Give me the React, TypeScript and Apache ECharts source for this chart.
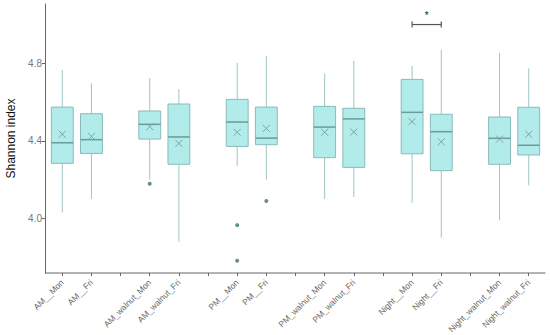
import React, { useEffect, useRef } from "react";
import * as echarts from "echarts";

const categories = [
  "AM__Mon", "AM__Fri", "gap1",
  "AM_walnut_Mon", "AM_walnut_Fri", "gap2",
  "PM__Mon", "PM__Fri", "gap3",
  "PM_walnut_Mon", "PM_walnut_Fri", "gap4",
  "Night__Mon", "Night__Fri", "gap5",
  "Night_walnut_Mon", "Night_walnut_Fri",
];

const groupIndex = [0, 1, 3, 4, 6, 7, 9, 10, 12, 13, 15, 16];
const whiskerLow = [4.03, 4.10, 4.20, 3.88, 4.27, 4.20, 4.10, 4.11, 4.08, 3.90, 3.99, 4.17];
const q1 = [4.284, 4.335, 4.409, 4.279, 4.371, 4.38, 4.313, 4.263, 4.333, 4.246, 4.279, 4.327];
const medians = [4.39, 4.406, 4.485, 4.42, 4.497, 4.414, 4.471, 4.513, 4.547, 4.447, 4.413, 4.377];
const q3 = [4.574, 4.54, 4.554, 4.59, 4.614, 4.574, 4.578, 4.568, 4.717, 4.537, 4.523, 4.573];
const whiskerHigh = [4.765, 4.697, 4.723, 4.667, 4.803, 4.838, 4.748, 4.812, 4.786, 4.869, 4.853, 4.774];
const means = [4.434, 4.423, 4.473, 4.387, 4.444, 4.464, 4.444, 4.445, 4.499, 4.395, 4.409, 4.434];

const outlierCats = [3, 6, 6, 7];
const outlierValues = [4.179, 3.965, 3.781, 4.089];

const yTicks = [4.0, 4.4, 4.8];
const sigPair = [12, 13];
const sigLevel = 5.0;
const sigLabel = "*";

const FONT = "'Liberation Sans', Arial, sans-serif";

export default function App() {
  const ref = useRef<HTMLDivElement>(null);
  useEffect(() => {
    document.body.style.margin = "0";
    const chart = echarts.init(ref.current!, null, { renderer: "svg" });
    const boxData = groupIndex.map((c, i) => [
      c, whiskerLow[i], q1[i], medians[i], q3[i], whiskerHigh[i], means[i],
    ]);
    const option: any = {
      animation: false,
      backgroundColor: "#ffffff",
      grid: {
        left: 47.7,
        right: 6.7,
        top: 4,
        bottom: 62,
        containLabel: false,
        outerBoundsMode: "none",
      },
      xAxis: {
        type: "category",
        data: categories,
        axisLine: { show: false },
        axisTick: { show: true, alignWithLabel: true, length: 3, lineStyle: { color: "#666" } },
        axisLabel: {
          interval: 0,
          rotate: 45,
          fontSize: 8.5,
          color: "#666",
          fontFamily: FONT,
          margin: 8,
          formatter: (v: string) => (v.startsWith("gap") ? "" : v),
        },
        splitLine: { show: false },
      },
      yAxis: {
        type: "value",
        min: 3.718,
        max: 5.106,
        offset: 2.7,
        name: "Shannon index",
        nameLocation: "middle",
        nameGap: 28,
        nameTextStyle: { fontSize: 12, color: "#111", fontFamily: FONT },
        axisLine: { show: true, lineStyle: { color: "#666", width: 1 } },
        axisTick: { show: true, length: 3, customValues: yTicks, lineStyle: { color: "#666" } },
        axisLabel: {
          customValues: yTicks,
          fontSize: 10,
          color: "#777",
          fontFamily: FONT,
          margin: 3,
          formatter: (v: number) => v.toFixed(1),
        },
        splitLine: { show: false },
      },
      graphic: [
        {
          type: "line",
          shape: { x1: 45, y1: 273, x2: 545.5, y2: 273 },
          style: { stroke: "#666", lineWidth: 1 },
          z: 10,
        },
      ],
      series: [
        {
          type: "custom",
          data: boxData,
          encode: { x: 0, y: [1, 2, 3, 4, 5, 6] },
          renderItem: (params: any, api: any) => {
            const x = api.value(0);
            const pLow = api.coord([x, api.value(1)]);
            const pQ1 = api.coord([x, api.value(2)]);
            const pMed = api.coord([x, api.value(3)]);
            const pQ3 = api.coord([x, api.value(4)]);
            const pHigh = api.coord([x, api.value(5)]);
            const pMean = api.coord([x, api.value(6)]);
            const bw = api.size([1, 0])[0] * 0.75;
            const cx = pMed[0];
            const m = 3.5;
            const wStyle = { stroke: "#9fc4c4", lineWidth: 1 };
            return {
              type: "group",
              children: [
                { type: "line", shape: { x1: cx, y1: pHigh[1], x2: cx, y2: pQ3[1] }, style: wStyle },
                { type: "line", shape: { x1: cx, y1: pQ1[1], x2: cx, y2: pLow[1] }, style: wStyle },
                {
                  type: "rect",
                  shape: { x: cx - bw / 2, y: pQ3[1], width: bw, height: pQ1[1] - pQ3[1] },
                  style: { fill: "#b1eceb", stroke: "#8bbaba", lineWidth: 1 },
                },
                {
                  type: "line",
                  shape: { x1: cx - bw / 2, y1: pMed[1], x2: cx + bw / 2, y2: pMed[1] },
                  style: { stroke: "#6b9b9b", lineWidth: 1.5 },
                },
                {
                  type: "line",
                  shape: { x1: cx - m, y1: pMean[1] - m, x2: cx + m, y2: pMean[1] + m },
                  style: { stroke: "#7fa3a3", lineWidth: 1 },
                },
                {
                  type: "line",
                  shape: { x1: cx - m, y1: pMean[1] + m, x2: cx + m, y2: pMean[1] - m },
                  style: { stroke: "#7fa3a3", lineWidth: 1 },
                },
              ],
            };
          },
          z: 2,
        },
        {
          type: "scatter",
          data: outlierCats.map((c, i) => [c, outlierValues[i]]),
          symbol: "circle",
          symbolSize: 4,
          itemStyle: { color: "#3b7373" },
          z: 3,
        },
        {
          type: "custom",
          data: [[sigPair[0], sigPair[1], sigLevel]],
          encode: { x: [0, 1], y: 2 },
          renderItem: (params: any, api: any) => {
            const a = api.coord([api.value(0), api.value(2)]);
            const b = api.coord([api.value(1), api.value(2)]);
            const st = { stroke: "#555", lineWidth: 1.2 };
            return {
              type: "group",
              children: [
                { type: "line", shape: { x1: a[0], y1: a[1], x2: b[0], y2: b[1] }, style: st },
                { type: "line", shape: { x1: a[0], y1: a[1] - 3, x2: a[0], y2: a[1] + 3 }, style: st },
                { type: "line", shape: { x1: b[0], y1: b[1] - 3, x2: b[0], y2: b[1] + 3 }, style: st },
                {
                  type: "text",
                  x: (a[0] + b[0]) / 2,
                  y: a[1] - 4,
                  style: {
                    text: sigLabel,
                    fontSize: 10,
                    fontFamily: FONT,
                    fill: "#222",
                    align: "center",
                    verticalAlign: "bottom",
                  },
                },
              ],
            };
          },
          z: 4,
        },
      ],
    };
    chart.setOption(option);
    return () => chart.dispose();
  }, []);
  return (
    <div
      ref={ref}
      style={{ position: "absolute", left: 0, top: 0, width: 550, height: 335 }}
    />
  );
}
